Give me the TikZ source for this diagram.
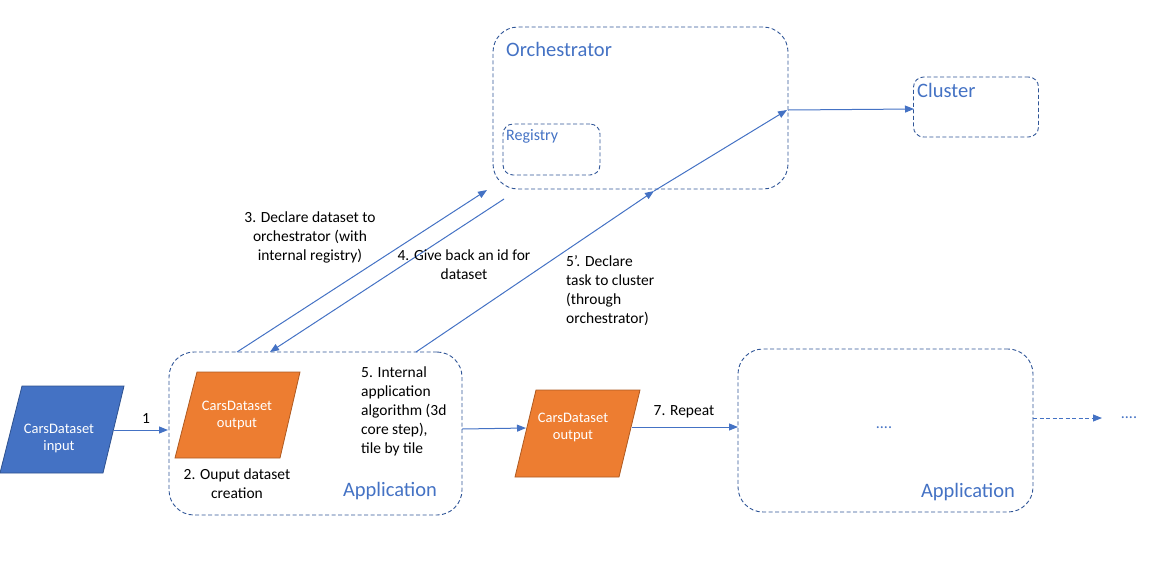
\documentclass[tikz,border=0pt]{standalone}
\usepackage{fontspec}
\setmainfont{Carlito}
\usetikzlibrary{arrows.meta,calc}
\definecolor{accent}{HTML}{4472C4}
\definecolor{dashblue}{HTML}{2F5597}
\definecolor{inedge}{HTML}{2F528F}
\definecolor{orfill}{HTML}{ED7D31}
\definecolor{oredge}{HTML}{AE5A21}
\begin{document}
\begin{tikzpicture}[x=1pt,y=-1pt,
  container/.style={draw=dashblue, line width=0.9pt, dash pattern=on 4pt off 2.5pt, rounded corners=25pt, inner sep=0pt},
  smallbox/.style={container, rounded corners=10pt},
  flow/.style={draw=accent, line width=1pt, -{Triangle[length=9pt,width=7pt]}},
  dflow/.style={flow, dash pattern=on 4pt off 2.5pt},
  lbl/.style={font=\fontsize{15.5}{19}\selectfont, text=black, inner sep=0pt},
  title/.style={font=\fontsize{20.5}{24}\selectfont, text=accent, inner sep=0pt},
  subtitle/.style={font=\fontsize{16}{18}\selectfont, text=accent, inner sep=0pt},
  ptext/.style={font=\fontsize{14.5}{17}\selectfont, text=white, align=center, inner sep=0pt},
  bluedata/.style={fill=accent, draw=inedge, line width=0.8pt},
  orangedata/.style={fill=orfill, draw=oredge, line width=0.8pt},
  dots/.style={font=\fontsize{16}{18}\selectfont, text=accent, inner sep=0pt},
]
\useasboundingbox (0,0) rectangle (1162,566);

% containers
\node[container, minimum width=293pt, minimum height=163pt] (app1) at (315.5,433.5) {};
\node[container, minimum width=295pt, minimum height=163pt] (app2) at (885.5,430.5) {};
\node[container, minimum width=295pt, minimum height=162pt] (orch) at (640.5,108) {};
\node[smallbox, minimum width=97pt, minimum height=51pt] (reg) at (551.5,149.5) {};
\node[smallbox, minimum width=125pt, minimum height=60pt] (clus) at (976,107) {};

% container titles
\node[title] (app1t) at (390,491) {Application};
\node[title] (app2t) at (968,492) {Application};
\node[title, anchor=west] (orcht) at (506,49) {Orchestrator};
\node[title, anchor=west] (clust) at (917,90) {Cluster};
\node[subtitle, anchor=west] (regt) at (506,136.5) {Registry};

% data shapes
\filldraw[bluedata] (22,386) -- (124,386) -- (103,473) -- (0,473) -- cycle;
\node[ptext] (in) at (59,438) {CarsDataset\\input};
\filldraw[orangedata] (197,372) -- (300,372) -- (280,458) -- (175,458) -- cycle;
\node[ptext] (out1) at (237,415) {CarsDataset\\output};
\filldraw[orangedata] (536,390) -- (640,390) -- (619,477) -- (515,477) -- cycle;
\node[ptext] (out2) at (573,427) {CarsDataset\\output};

% connector end points
\coordinate (inR) at (114,430);
\coordinate (app1L) at (168,430);
\coordinate (app1R) at (462,429);
\coordinate (out2L) at (526,428);
\coordinate (out2R) at (632,427);
\coordinate (app2L) at (738,427);
\coordinate (app2R) at (1033,418);
\coordinate (more) at (1102,418);
\coordinate (a3s) at (237,352);
\coordinate (a3e) at (487,190);
\coordinate (a4s) at (504,199);
\coordinate (a4e) at (270,352);
\coordinate (a5s) at (416,352);
\coordinate (a5m) at (654,191);
\coordinate (a5e) at (787,110);
\coordinate (orchR) at (788,110);
\coordinate (clusL) at (914,109);

% connectors
\draw[flow] (inR) -- (app1L);
\draw[flow] (app1R) -- (out2L);
\draw[flow] (out2R) -- (app2L);
\draw[dflow] (app2R) -- (more);
\draw[flow] (a3s) -- (a3e);
\draw[flow] (a4s) -- (a4e);
\draw[flow] (a5s) -- (a5m);
\draw[flow] (a5m) -- (a5e);
\draw[flow] (orchR) -- (clusL);

% labels
\node[lbl] (l1) at (146,419) {1};
\node[lbl, align=center] (l2) at (237,483.5) {2. Ouput dataset\\creation};
\node[lbl, align=center] (l3) at (310,237.5) {3. Declare dataset to\\orchestrator (with\\internal registry)};
\node[lbl, align=center] (l4) at (464,265) {4. Give back an id for\\dataset};
\node[lbl, align=left, anchor=west] (l5) at (361,411.5) {5. Internal\\application\\algorithm (3d\\core step),\\tile by tile};
\node[lbl, align=left, anchor=west] (l5p) at (566,291) {5’. Declare\\task to cluster\\(through\\orchestrator)};
\node[lbl] (l7) at (684,412) {7. Repeat};
\node[dots] (dots1) at (884,428) {....};
\node[dots] (dots2) at (1129,418) {....};
\end{tikzpicture}
\end{document}
